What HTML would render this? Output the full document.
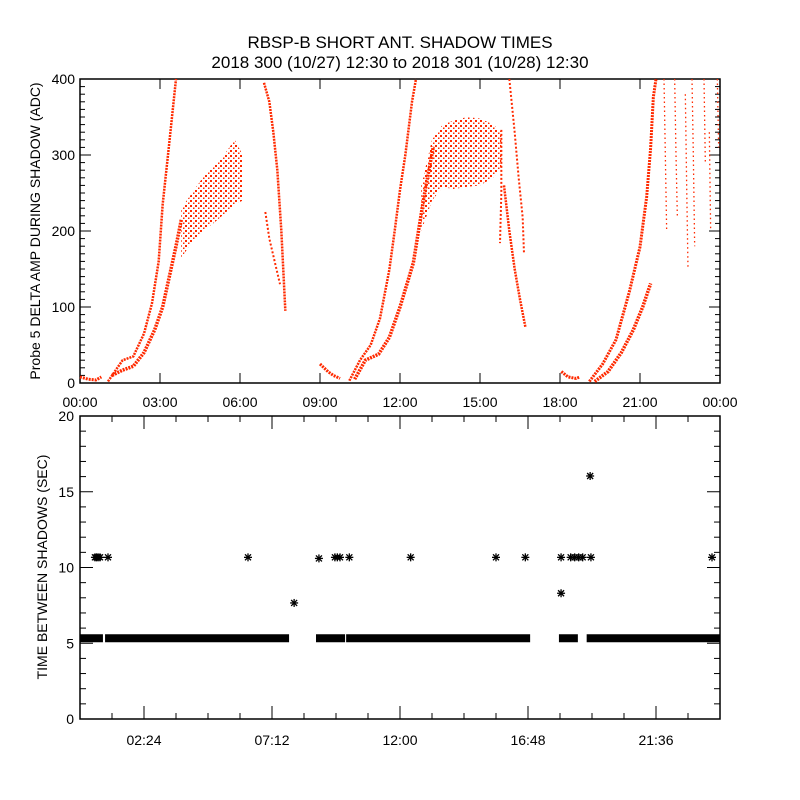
<!DOCTYPE html>
<html><head><meta charset="utf-8">
<style>
html,body{margin:0;padding:0;background:#fff;}
svg{display:block;font-family:"Liberation Sans",sans-serif;}
</style></head>
<body>
<svg id="c" width="800" height="800" viewBox="0 0 800 800">
<rect width="800" height="800" fill="#fff"/>
<defs>
<pattern id="dots" width="5" height="5" patternUnits="userSpaceOnUse">
<rect x="0" y="0" width="2" height="2" fill="#ff2a00"/>
<rect x="3" y="2.5" width="1.5" height="1.5" fill="#ff2a00"/>
</pattern>
</defs>
<text x="400" y="48" text-anchor="middle" font-size="17">RBSP-B SHORT ANT. SHADOW TIMES</text>
<text x="400" y="68" text-anchor="middle" font-size="17">2018 300 (10/27) 12:30 to 2018 301 (10/28) 12:30</text>
<text transform="translate(40,231) rotate(-90)" text-anchor="middle" font-size="14">Probe 5 DELTA AMP DURING SHADOW (ADC)</text>
<text transform="translate(47,567) rotate(-90)" text-anchor="middle" font-size="14">TIME BETWEEN SHADOWS (SEC)</text>
<g id="topPlot"></g>
<g id="botPlot"></g>
</svg>
<script>
// ---- top chart data: strands as [hour, adc] ----
const blobA = [[0,8],[0.3,5],[0.6,4],[0.8,8]];
const rise1Upper = [[1.05,2],[1.4,20],[1.6,30],[2.0,35],[2.4,65],[2.7,105],[2.95,160],[3.1,235],[3.3,300],[3.45,350],[3.6,400]];
const rise1Lower = [[1.2,10],[1.6,17],[2.0,22],[2.4,40],[2.8,70],[3.1,100],[3.35,140],[3.6,180],[3.8,215]];
const fall1a = [[6.9,395],[7.1,370],[7.25,330],[7.4,280],[7.55,200],[7.7,95]];
const fall1b = [[6.95,225],[7.1,190],[7.3,160],[7.5,130]];
const blobB = [[9.0,25],[9.3,15],[9.5,10],[9.75,6]];
const rise2Upper = [[10.1,3],[10.5,30],[10.9,50],[11.25,85],[11.6,149],[11.8,200],[12.0,254],[12.2,300],[12.45,370],[12.6,400]];
const rise2Lower = [[10.3,5],[10.7,30],[11.2,38],[11.6,60],[12.0,100],[12.5,158],[12.9,245],[13.25,311]];
const fall2a = [[15.8,333],[15.8,250],[15.75,184]];
const fall2b = [[15.9,260],[16.1,200],[16.3,150],[16.5,110],[16.7,74]];
const fall2c = [[16.1,400],[16.3,330],[16.45,270],[16.6,218],[16.65,170]];
const blobC = [[18.05,15],[18.3,8],[18.6,6],[18.75,8]];
const rise3Upper = [[19.1,2],[19.6,25],[20.1,57],[20.6,120],[21.0,179],[21.25,245],[21.4,310],[21.5,376],[21.6,400]];
const rise3Lower = [[19.3,2],[19.8,15],[20.3,40],[20.75,70],[21.1,100],[21.4,131]];
const late1 = [[21.9,400],[21.95,300],[22.0,200]];
const late2 = [[22.3,400],[22.35,300],[22.4,220]];
const late3 = [[22.7,380],[22.75,260],[22.8,150]];
const late4 = [[22.95,400],[23.0,300],[23.05,180]];
const late5 = [[23.4,400],[23.45,290]];
const late6 = [[23.6,330],[23.65,200]];
const late7 = [[23.9,400],[23.95,310]];
// scattered bands: hours, low, high
const hump1Hours = [3.8,4.2,4.6,5.0,5.4,5.8,6.1];
const hump1Lo = [165,185,200,210,222,235,240];
const hump1Hi = [230,250,270,285,300,320,300];
const hump2Hours = [12.8,13.2,13.6,14.0,14.5,15.0,15.5,15.8];
const hump2Lo = [200,240,258,255,258,260,270,285];
const hump2Hi = [260,320,340,345,350,348,340,330];
const topXTicks = ["00:00","03:00","06:00","09:00","12:00","15:00","18:00","21:00","00:00"];
const topYTicks = [0,100,200,300,400];

// ---- bottom chart data ----
const bandSegStart = [0,0.94,8.85,9.98,17.96,19.0];
const bandSegEnd = [0.86,7.84,9.94,16.88,18.67,24];
const bandValue = 5.33;
const starHours = [0.56,0.62,0.68,0.75,1.05,6.3,8.96,9.56,9.65,9.75,10.1,12.4,15.6,16.7,18.04,18.4,18.55,18.7,18.85,19.16,23.7,8.03,18.04,19.13];
const starValues = [10.67,10.67,10.67,10.67,10.67,10.67,10.6,10.67,10.67,10.67,10.67,10.67,10.67,10.67,10.67,10.67,10.67,10.67,10.67,10.67,10.67,7.66,8.3,16.04];
const botXTicks = ["02:24","07:12","12:00","16:48","21:36"];
const botYTicks = [0,5,10,15,20];

const NS = "http://www.w3.org/2000/svg";
function mk(p, tag, a){const e=document.createElementNS(NS,tag);for(const k in a)e.setAttribute(k,a[k]);p.appendChild(e);return e;}
const L=80,R=720,T1=79,B1=383,T2=416,B2=719;
const xH = h => L + h*(R-L)/24;
const yA = v => B1 - v*(B1-T1)/400;
const yS = v => B2 - v*(B2-T2)/20;
const RED="#ff2a00";
const topG=document.getElementById('topPlot'), botG=document.getElementById('botPlot');

let f=mk(topG,'rect',{x:L,y:T1,width:R-L,height:B1-T1,fill:'none',stroke:'#000','stroke-width':1.5});


for(let v=0;v<=400;v+=10){
  const len = v%100===0?11:5;
  mk(topG,'line',{x1:L,x2:L+len,y1:yA(v),y2:yA(v),stroke:'#000','stroke-width':1});
  mk(topG,'line',{x1:R,x2:R-len,y1:yA(v),y2:yA(v),stroke:'#000','stroke-width':1});
}
topYTicks.forEach(v=>{
  const t=mk(topG,'text',{x:L-5,y:yA(v)+5,'text-anchor':'end','font-size':14});
  t.textContent=v;
  
  
});
topXTicks.forEach((s,i)=>{
  const x=xH(i*3);
  mk(topG,'line',{x1:x,x2:x,y1:B1,y2:B1-10,stroke:'#000','stroke-width':1});
  mk(topG,'line',{x1:x,x2:x,y1:T1,y2:T1+10,stroke:'#000','stroke-width':1});
  const t=mk(topG,'text',{x:x,y:407,'text-anchor':'middle','font-size':14});
  t.textContent=s;
  
  
});
function band(hours,lo,hi,name){
  let pts=hours.map((h,i)=>xH(h)+','+yA(hi[i]));
  for(let i=hours.length-1;i>=0;i--)pts.push(xH(hours[i])+','+yA(lo[i]));
  const p=mk(topG,'polygon',{points:pts.join(' '),fill:'url(#dots)'});
  
  
}
band(hump1Hours,hump1Lo,hump1Hi,'scatter-band-day1');
band(hump2Hours,hump2Lo,hump2Hi,'scatter-band-day2');
const strands=[[blobA,3,'2 1'],[rise1Upper,2.5,'2 1'],[rise1Lower,3.5,'2 1'],[fall1a,2.5,'2 1'],[fall1b,2,'2 2'],[blobB,3,'2 1'],[rise2Upper,2.5,'2 1'],[rise2Lower,3.5,'2 1'],[fall2a,2,'2 2'],[fall2b,2.5,'2 1'],[fall2c,2,'2 2'],[blobC,3,'2 1'],[rise3Upper,3,'2 1'],[rise3Lower,3.5,'2 1'],[late1,1.3,'1.5 3'],[late2,1.3,'1.5 3'],[late3,1.3,'1.5 3'],[late4,1.3,'1.5 3'],[late5,1.3,'1.5 3'],[late6,1.3,'1.5 3'],[late7,1.3,'1.5 3']];
strands.forEach(([d,w,da])=>{
  const p=mk(topG,'polyline',{points:d.map(q=>xH(q[0])+','+yA(q[1])).join(' '),fill:'none',stroke:RED,'stroke-width':w,'stroke-dasharray':da,'stroke-linejoin':'round'});
  
  
});

f=mk(botG,'rect',{x:L,y:T2,width:R-L,height:B2-T2,fill:'none',stroke:'#000','stroke-width':1.5});


for(let v=0;v<=20;v+=1){
  const len=v%5===0?13:6;
  mk(botG,'line',{x1:L,x2:L+len,y1:yS(v),y2:yS(v),stroke:'#000','stroke-width':1});
  mk(botG,'line',{x1:R,x2:R-len,y1:yS(v),y2:yS(v),stroke:'#000','stroke-width':1});
}
botYTicks.forEach(v=>{
  const t=mk(botG,'text',{x:L-6,y:yS(v)+5,'text-anchor':'end','font-size':14});
  t.textContent=v;
  
  
});
for(let k=1;k<20;k++){
  const x=xH(k*1.2), len=k%4===2?13:6;
  mk(botG,'line',{x1:x,x2:x,y1:B2,y2:B2-len,stroke:'#000','stroke-width':1});
  mk(botG,'line',{x1:x,x2:x,y1:T2,y2:T2+len,stroke:'#000','stroke-width':1});
}
botXTicks.forEach((s,i)=>{
  const t=mk(botG,'text',{x:xH((i*4+2)*1.2),y:745,'text-anchor':'middle','font-size':14});
  t.textContent=s;
  
  
});
bandSegStart.forEach((s,i)=>{
  const r=mk(botG,'rect',{x:xH(s),y:yS(bandValue)-4,width:xH(bandSegEnd[i])-xH(s),height:8,fill:'#000'});
  
  
});
starHours.forEach((h,i)=>{
  const cx=xH(h), cy=yS(starValues[i]);
  const g=mk(botG,'g',{stroke:'#000','stroke-width':1.3});
  
  
  mk(g,'line',{x1:cx-4,x2:cx+4,y1:cy,y2:cy});
  mk(g,'line',{x1:cx,x2:cx,y1:cy-4,y2:cy+4});
  mk(g,'line',{x1:cx-3,x2:cx+3,y1:cy-3,y2:cy+3});
  mk(g,'line',{x1:cx-3,x2:cx+3,y1:cy+3,y2:cy-3});
});
</script>
</body></html>
